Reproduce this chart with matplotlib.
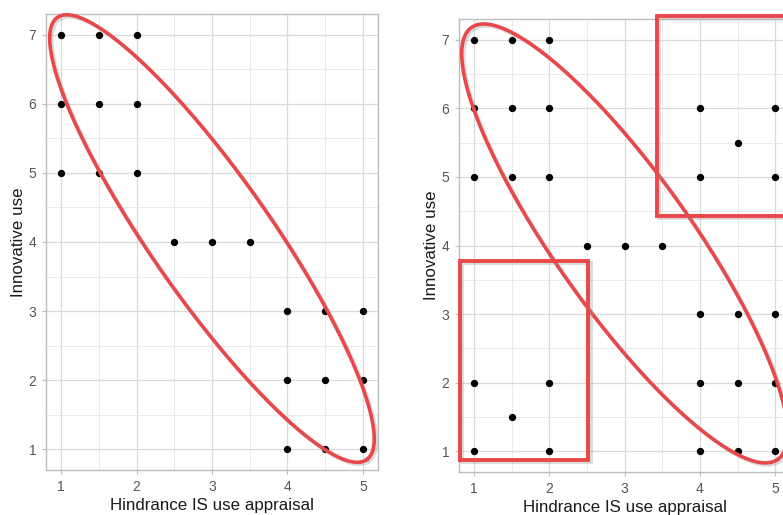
import numpy as np
import matplotlib
matplotlib.use("Agg")
from matplotlib import pyplot as plt
import matplotlib.patheffects as pe

plt.rcParams['font.family'] = ['Liberation Sans', 'DejaVu Sans']

# left panel points
left_x = [1, 1.5, 2, 1, 1.5, 2, 1, 1.5, 2, 2.5, 3, 3.5, 4, 4.5, 5, 4, 4.5, 5, 4, 4.5, 5]
left_y = [7, 7, 7, 6, 6, 6, 5, 5, 5, 4, 4, 4, 3, 3, 3, 2, 2, 2, 1, 1, 1]

# right panel adds the off-diagonal points
extra_x = [4, 5, 4.5, 4, 5, 1, 2, 1.5, 1, 2]
extra_y = [6, 6, 5.5, 5, 5, 2, 2, 1.5, 1, 1]
right_x = left_x + extra_x
right_y = left_y + extra_y

xticks = [1, 2, 3, 4, 5]
yticks = [1, 2, 3, 4, 5, 6, 7]
xlabel = "Hindrance IS use appraisal"
ylabel = "Innovative use"

# ellipse: centre, major axis vector, minor axis vector (data units)
left_ell = [(3.0, 4.05), (2.05, -3.2), (0.65, 0.50)]
right_ell = [(3.0, 4.03), (2.03, -3.15), (0.75, 0.55)]

# highlight boxes on right panel: (x0, y0, x1, y1)
boxes = [(3.43, 4.43, 5.6, 7.34), (0.81, 0.87, 2.52, 3.77)]

RED = '#e8484a'
shadow = [pe.SimpleLineShadow(offset=(1.5, -1.5), shadow_color='#999999', alpha=0.35), pe.Normal()]

fig = plt.figure(figsize=(7.83, 5.15), dpi=100)
ax1 = fig.add_axes([0.0587, 0.0874, 0.424, 0.8854])
ax2 = fig.add_axes([0.5862, 0.0835, 0.423, 0.8796])


def style(ax):
    ax.set_xlim(0.8, 5.2)
    ax.set_ylim(0.7, 7.3)
    ax.set_xticks(xticks)
    ax.set_yticks(yticks)
    ax.set_xticks(np.arange(1.5, 5, 1), minor=True)
    ax.set_yticks(np.arange(1.5, 7, 1), minor=True)
    ax.grid(which='major', color='#dadada', lw=0.9)
    ax.grid(which='minor', color='#e6e6e6', lw=0.6)
    ax.set_axisbelow(True)
    for s in ax.spines.values():
        s.set_color('#bdbdbd')
        s.set_linewidth(1.0)
    ax.tick_params(which='major', length=3, color='#bdbdbd', labelcolor='#555555', labelsize=10, pad=4)
    ax.tick_params(which='minor', length=0)
    ax.set_xlabel(xlabel, fontsize=12.2, color='#1a1a1a', labelpad=3)
    ax.set_ylabel(ylabel, fontsize=12.2, color='#1a1a1a', labelpad=1.5)


def ellipse(ax, ell):
    (cx, cy), (mx, my), (nx, ny) = ell
    t = np.linspace(0, 2 * np.pi, 400)
    ex = cx + np.cos(t) * mx + np.sin(t) * nx
    ey = cy + np.cos(t) * my + np.sin(t) * ny
    ax.plot(ex, ey, color=RED, lw=2.6, clip_on=False, zorder=4, path_effects=shadow)


style(ax1)
ax1.scatter(left_x, left_y, s=18, color='black', zorder=3)
ellipse(ax1, left_ell)

style(ax2)
ax2.scatter(right_x, right_y, s=18, color='black', zorder=3)
ellipse(ax2, right_ell)
for x0, y0, x1, y1 in boxes:
    ax2.plot([x0, x1, x1, x0, x0], [y0, y0, y1, y1, y0], color=RED, lw=2.8,
             clip_on=False, zorder=4, solid_joinstyle='miter', path_effects=shadow)

fig.savefig('out.png', dpi=100)
